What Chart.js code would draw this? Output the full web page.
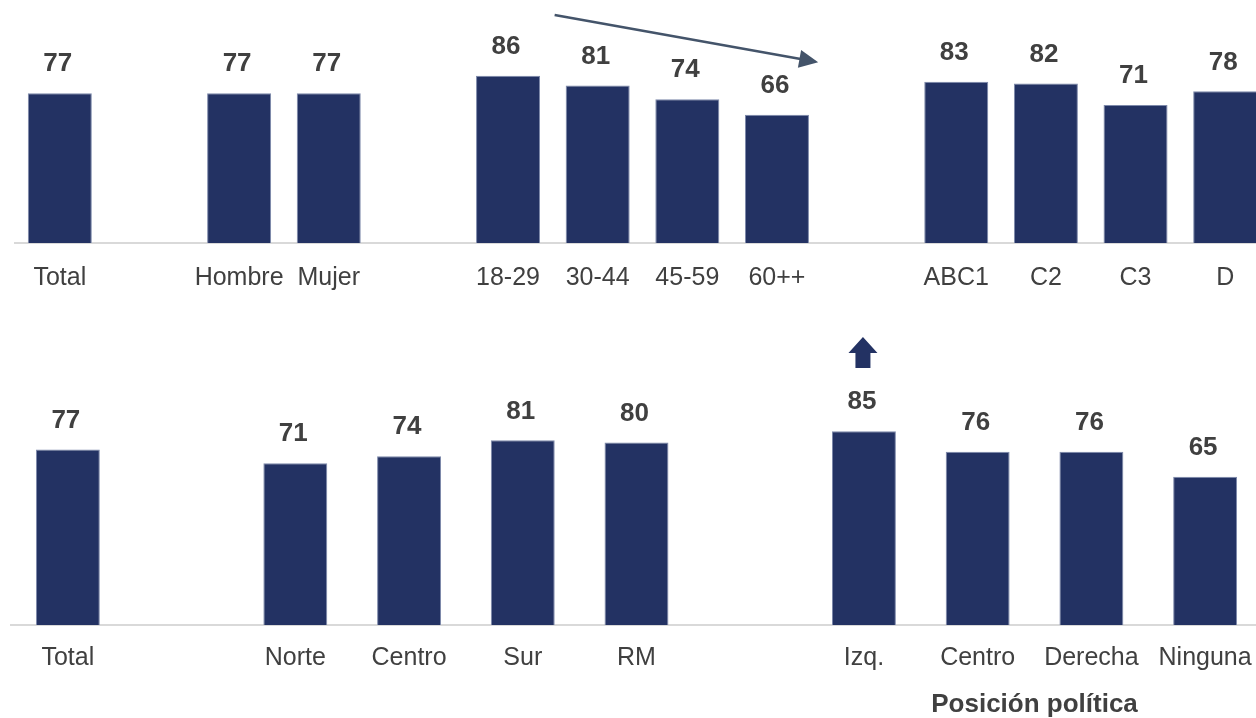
<!DOCTYPE html>
<html>
<head>
<meta charset="utf-8">
<script src="https://cdn.jsdelivr.net/npm/chart.js@4.4.1/dist/chart.umd.min.js"></script>
<style>
  html, body { margin: 0; padding: 0; background: #fff; overflow: hidden; }
  .box { position: absolute; left: 0; width: 1270px; }
  #topBox { top: 0; height: 300px; }
  #bottomBox { top: 330px; height: 388px; }
</style>
</head>
<body>
<div class="box" id="topBox"><canvas id="chartTop"></canvas></div>
<div class="box" id="bottomBox"><canvas id="chartBottom"></canvas></div>
<script>
// datos panel superior (total, sexo, edad, GSE)
var topLabels = ["Total", "", "Hombre", "Mujer", "", "18-29", "30-44", "45-59", "60++", "", "ABC1", "C2", "C3", "D"];
var topValues = [77, null, 77, 77, null, 86, 81, 74, 66, null, 83, 82, 71, 78];

// datos panel inferior (total, zona, posición política)
var bottomLabels = ["Total", "", "Norte", "Centro", "Sur", "RM", "", "Izq.", "Centro", "Derecha", "Ninguna"];
var bottomValues = [77, null, 71, 74, 81, 80, null, 85, 76, 76, 65];

var barColor = "#233263";
var textColor = "#404040";
var font = "'Liberation Sans', Arial, sans-serif";

// etiquetas de valor sobre cada barra
var valueLabels = {
  id: "valueLabels",
  afterDatasetsDraw: function (chart) {
    var ctx = chart.ctx;
    var meta = chart.getDatasetMeta(0);
    ctx.save();
    ctx.font = "bold 26px " + font;
    ctx.fillStyle = textColor;
    ctx.textAlign = "center";
    ctx.textBaseline = "middle";
    meta.data.forEach(function (bar, i) {
      var v = chart.data.datasets[0].data[i];
      if (v == null) return;
      ctx.fillText(v, bar.x - 2, bar.y - 29);
    });
    ctx.restore();
  }
};

// flecha de tendencia (edad)
var trendArrow = {
  id: "trendArrow",
  afterDraw: function (chart) {
    var x = chart.scales.x, y = chart.scales.y, ctx = chart.ctx;
    var x1 = x.getPixelForValue(5.52), y1 = y.getPixelForValue(117.3);
    var x2 = x.getPixelForValue(8.46), y2 = y.getPixelForValue(93);
    var a = Math.atan2(y2 - y1, x2 - x1);
    ctx.save();
    ctx.strokeStyle = "#44546A";
    ctx.fillStyle = "#44546A";
    ctx.lineWidth = 2.5;
    ctx.beginPath();
    ctx.moveTo(x1, y1);
    ctx.lineTo(x2 - 15 * Math.cos(a), y2 - 15 * Math.sin(a));
    ctx.stroke();
    ctx.beginPath();
    ctx.moveTo(x2, y2);
    ctx.lineTo(x2 - 19 * Math.cos(a) + 9 * Math.sin(a), y2 - 19 * Math.sin(a) - 9 * Math.cos(a));
    ctx.lineTo(x2 - 19 * Math.cos(a) - 9 * Math.sin(a), y2 - 19 * Math.sin(a) + 9 * Math.cos(a));
    ctx.closePath();
    ctx.fill();
    ctx.restore();
  }
};

// flecha hacia arriba + título de grupo (panel inferior)
var bottomExtras = {
  id: "bottomExtras",
  afterDraw: function (chart) {
    var x = chart.scales.x, y = chart.scales.y, ctx = chart.ctx;
    var cx = x.getPixelForValue(7) - 1;
    var top = y.getPixelForValue(126.3), bot = y.getPixelForValue(112.7);
    ctx.save();
    ctx.fillStyle = barColor;
    ctx.beginPath();
    ctx.moveTo(cx, top);
    ctx.lineTo(cx + 14.5, top + 16);
    ctx.lineTo(cx + 7.5, top + 16);
    ctx.lineTo(cx + 7.5, bot);
    ctx.lineTo(cx - 7.5, bot);
    ctx.lineTo(cx - 7.5, top + 16);
    ctx.lineTo(cx - 14.5, top + 16);
    ctx.closePath();
    ctx.fill();

    ctx.font = "bold 26px " + font;
    ctx.fillStyle = textColor;
    ctx.textAlign = "center";
    ctx.textBaseline = "middle";
    ctx.fillText("Posición política", x.getPixelForValue(8.5), chart.chartArea.bottom + 80);
    ctx.restore();
  }
};

function makeChart(id, labels, values, opts) {
  return new Chart(document.getElementById(id), {
    type: "bar",
    data: {
      labels: labels,
      datasets: [{
        data: values,
        backgroundColor: barColor,
        borderColor: "#7d89aa",
        borderWidth: 1,
        barPercentage: opts.barPct,
        categoryPercentage: 1
      }]
    },
    options: {
      responsive: true,
      maintainAspectRatio: false,
      animation: false,
      layout: { padding: { left: opts.padLeft, right: opts.padRight, top: 0, bottom: 0 } },
      plugins: { legend: { display: false }, tooltip: { enabled: false } },
      scales: {
        x: {
          grid: { display: false, drawTicks: false },
          border: { display: true, color: "#d9d9d9", width: 2 },
          ticks: { color: textColor, font: { family: font, size: 25 }, padding: opts.tickPad, maxRotation: 0, autoSkip: false },
          afterFit: function (s) { s.height = opts.axisH; }
        },
        y: { display: false, min: 0, max: opts.yMax }
      }
    },
    plugins: opts.plugins
  });
}

makeChart("chartTop", topLabels, topValues, {
  barPct: 0.714, padLeft: 15, padRight: 0, tickPad: 20, axisH: 57, yMax: 125,
  plugins: [valueLabels, trendArrow]
});

makeChart("chartBottom", bottomLabels, bottomValues, {
  barPct: 0.562, padLeft: 11, padRight: 7, tickPad: 18, axisH: 93, yMax: 129.4,
  plugins: [valueLabels, bottomExtras]
});
</script>
</body>
</html>
